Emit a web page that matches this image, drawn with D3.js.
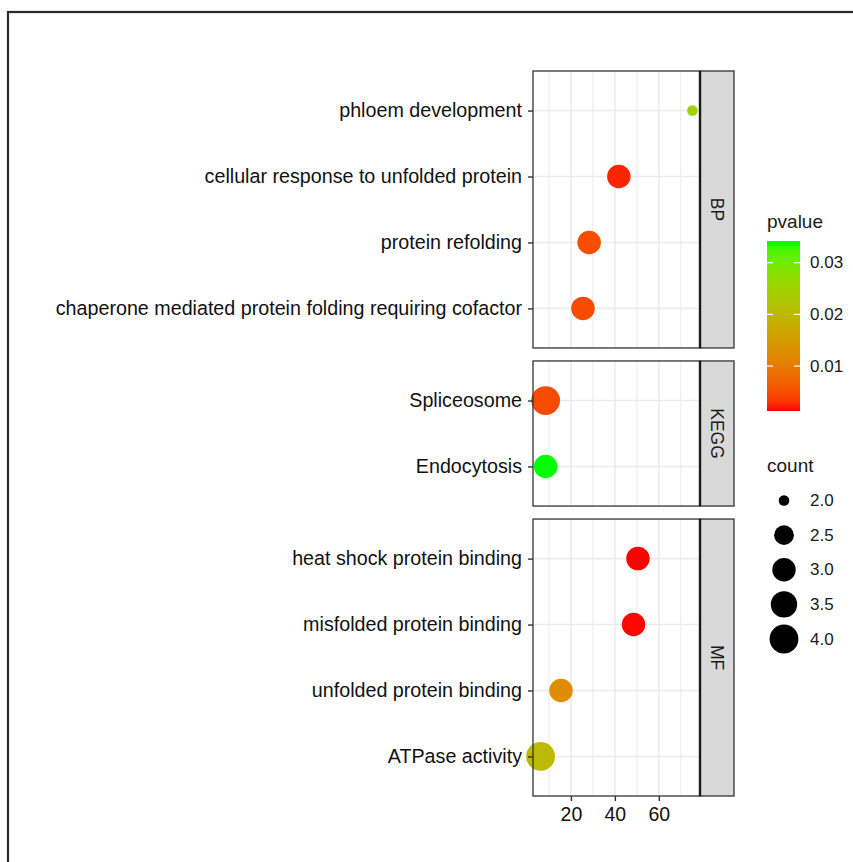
<!DOCTYPE html>
<html>
<head>
<meta charset="utf-8">
<script src="https://cdn.jsdelivr.net/npm/d3@7"></script>
<style>
  html, body { margin: 0; padding: 0; background: #fff; }
  svg { display: block; font-family: "Liberation Sans", Arial, Helvetica, sans-serif; }
</style>
</head>
<body>
<svg id="chart" width="853" height="862"></svg>
<script>
// ---------------- data ----------------
const facets = ["BP", "KEGG", "MF"];
const terms = [
  "phloem development",
  "cellular response to unfolded protein",
  "protein refolding",
  "chaperone mediated protein folding requiring cofactor",
  "Spliceosome",
  "Endocytosis",
  "heat shock protein binding",
  "misfolded protein binding",
  "unfolded protein binding",
  "ATPase activity"
];
const termFacet = ["BP", "BP", "BP", "BP", "KEGG", "KEGG", "MF", "MF", "MF", "MF"];
const xValues   = [75.3, 41.8, 28.3, 25.5, 8.5, 8.5, 50.5, 48.5, 15.5, 6.2];
const counts    = [2, 3, 3, 3, 4, 3, 3, 3, 3, 4];
const pvalues   = [0.0243, 0.0022, 0.0048, 0.0046, 0.0046, 0.0342, 0.0013, 0.0014, 0.0125, 0.0201];
const xTicks = [20, 40, 60];
const xMinorTicks = [10, 30, 50, 70];
const pTicks = [0.01, 0.02, 0.03];
const pTickLabels = ["0.01", "0.02", "0.03"];
const countBreaks = [2.0, 2.5, 3.0, 3.5, 4.0];
const countLabels = ["2.0", "2.5", "3.0", "3.5", "4.0"];

const rows = terms.map((t, i) => ({
  term: t, facet: termFacet[i], x: xValues[i], count: counts[i], p: pvalues[i]
}));

// ---------------- layout ----------------
const svg = d3.select("#chart");
const panelLeft = 533, panelRight = 700, stripRight = 734;
const plotTop = 71, plotBottom = 796, gap = 13;

// outer frame
svg.append("rect")
  .attr("x", 8).attr("y", 12).attr("width", 1000).attr("height", 1000)
  .attr("fill", "none").attr("stroke", "#2a2a2a").attr("stroke-width", 2.2);

// x scale with 5% expansion
const xExt = d3.extent(xValues);
const xPad = (xExt[1] - xExt[0]) * 0.05;
const x = d3.scaleLinear().domain([xExt[0] - xPad, xExt[1] + xPad]).range([panelLeft, panelRight]);

// facet heights proportional to (n - 1 + 1.2)
const facetN = facets.map(f => rows.filter(r => r.facet === f).length);
const units = facetN.map(n => n - 1 + 1.2);
const totalUnits = d3.sum(units);
const unitPx = (plotBottom - plotTop - gap * (facets.length - 1)) / totalUnits;

const color = d3.scaleLinear()
  .domain(d3.extent(pvalues))
  .range(["#ff0000", "#00ff00"])
  .interpolate(d3.interpolateLab);

const cExt = d3.extent(counts);
const rScale = d3.scaleSqrt().domain([0, cExt[1] - cExt[0]]).range([5.3, 14.4]);
const radius = c => rScale(c - cExt[0]);

let yCursor = plotTop;
facets.forEach((f, fi) => {
  const h = units[fi] * unitPx;
  const top = yCursor, bottom = yCursor + h;
  yCursor = bottom + gap;
  const data = rows.filter(r => r.facet === f);
  const y = d3.scalePoint().domain(data.map(d => d.term)).range([top, bottom]).padding(0.6);

  const g = svg.append("g");
  g.append("rect").attr("x", panelLeft).attr("y", top)
    .attr("width", panelRight - panelLeft).attr("height", h).attr("fill", "#fff");
  g.selectAll(".minor").data(xMinorTicks).join("line")
    .attr("x1", d => x(d)).attr("x2", d => x(d)).attr("y1", top).attr("y2", bottom)
    .attr("stroke", "#efefef").attr("stroke-width", 1.3);
  g.selectAll(".majorx").data(xTicks).join("line")
    .attr("x1", d => x(d)).attr("x2", d => x(d)).attr("y1", top).attr("y2", bottom)
    .attr("stroke", "#ebebeb").attr("stroke-width", 1.6);
  g.selectAll(".majory").data(data).join("line")
    .attr("x1", panelLeft).attr("x2", panelRight)
    .attr("y1", d => y(d.term)).attr("y2", d => y(d.term))
    .attr("stroke", "#ebebeb").attr("stroke-width", 1.6);

  g.selectAll("circle").data(data).join("circle")
    .attr("cx", d => x(d.x)).attr("cy", d => y(d.term))
    .attr("r", d => radius(d.count))
    .attr("fill", d => color(d.p));

  g.append("rect").attr("x", panelLeft).attr("y", top)
    .attr("width", panelRight - panelLeft).attr("height", h)
    .attr("fill", "none").attr("stroke", "#333").attr("stroke-width", 1.3);

  g.append("rect").attr("x", panelRight).attr("y", top)
    .attr("width", stripRight - panelRight).attr("height", h)
    .attr("fill", "#d9d9d9").attr("stroke", "#333").attr("stroke-width", 1.3);
  g.append("line").attr("x1", panelRight).attr("x2", panelRight)
    .attr("y1", top).attr("y2", bottom).attr("stroke", "#1a1a1a").attr("stroke-width", 2.4);
  const sx = (panelRight + stripRight) / 2, sy = (top + bottom) / 2;
  g.append("text").attr("transform", `translate(${sx},${sy}) rotate(90)`)
    .attr("text-anchor", "middle").attr("dominant-baseline", "central")
    .attr("font-size", 17.5).attr("fill", "#1a1a1a").text(f);

  const yAxis = d3.axisLeft(y).tickSize(5).tickPadding(6);
  const ya = svg.append("g").attr("transform", `translate(${panelLeft},0)`).call(yAxis);
  ya.select(".domain").remove();
  ya.selectAll(".tick line").attr("stroke", "#333").attr("stroke-width", 1.4);
  ya.selectAll(".tick text").attr("font-size", 19.7).attr("fill", "#111")
    .attr("font-family", "Liberation Sans, Arial, sans-serif");

  if (fi === facets.length - 1) {
    const xAxis = d3.axisBottom(x).tickValues(xTicks).tickSize(5).tickPadding(6);
    const xa = svg.append("g").attr("transform", `translate(0,${bottom})`).call(xAxis);
    xa.select(".domain").remove();
    xa.selectAll(".tick line").attr("stroke", "#333").attr("stroke-width", 1.4);
    xa.selectAll(".tick text").attr("font-size", 19.5).attr("fill", "#111")
      .attr("font-family", "Liberation Sans, Arial, sans-serif");
  }
});

// ---------------- pvalue legend ----------------
const legX = 767;
svg.append("text").attr("x", legX).attr("y", 228).attr("font-size", 19)
  .attr("fill", "#1a1a1a").text("pvalue");
const barTop = 241, barBottom = 411, barW = 33;
const pScale = d3.scaleLinear().domain(d3.extent(pvalues)).range([barBottom, barTop]);
const defs = svg.append("defs");
const grad = defs.append("linearGradient").attr("id", "pgrad")
  .attr("x1", 0).attr("y1", 1).attr("x2", 0).attr("y2", 0);
d3.range(0, 1.0001, 0.05).forEach(t => {
  const pv = color.domain()[0] + t * (color.domain()[1] - color.domain()[0]);
  grad.append("stop").attr("offset", t).attr("stop-color", color(pv));
});
svg.append("rect").attr("x", legX).attr("y", barTop).attr("width", barW)
  .attr("height", barBottom - barTop).attr("fill", "url(#pgrad)");
pTicks.forEach((t, i) => {
  const yy = pScale(t);
  svg.append("line").attr("x1", legX).attr("x2", legX + 6).attr("y1", yy).attr("y2", yy)
    .attr("stroke", "#fff").attr("stroke-width", 1.2);
  svg.append("line").attr("x1", legX + barW - 6).attr("x2", legX + barW).attr("y1", yy).attr("y2", yy)
    .attr("stroke", "#fff").attr("stroke-width", 1.2);
  svg.append("text").attr("x", 810).attr("y", yy).attr("dominant-baseline", "central")
    .attr("font-size", 17).attr("fill", "#1a1a1a").text(pTickLabels[i]);
});

// ---------------- count legend ----------------
svg.append("text").attr("x", legX).attr("y", 472).attr("font-size", 19)
  .attr("fill", "#1a1a1a").text("count");
const keyY = d3.scalePoint().domain(countLabels).range([500.5, 639]);
countBreaks.forEach((c, i) => {
  const yy = keyY(countLabels[i]);
  svg.append("circle").attr("cx", 784).attr("cy", yy).attr("r", radius(c)).attr("fill", "#000");
  svg.append("text").attr("x", 810).attr("y", yy).attr("dominant-baseline", "central")
    .attr("font-size", 17).attr("fill", "#1a1a1a").text(countLabels[i]);
});
</script>
</body>
</html>
